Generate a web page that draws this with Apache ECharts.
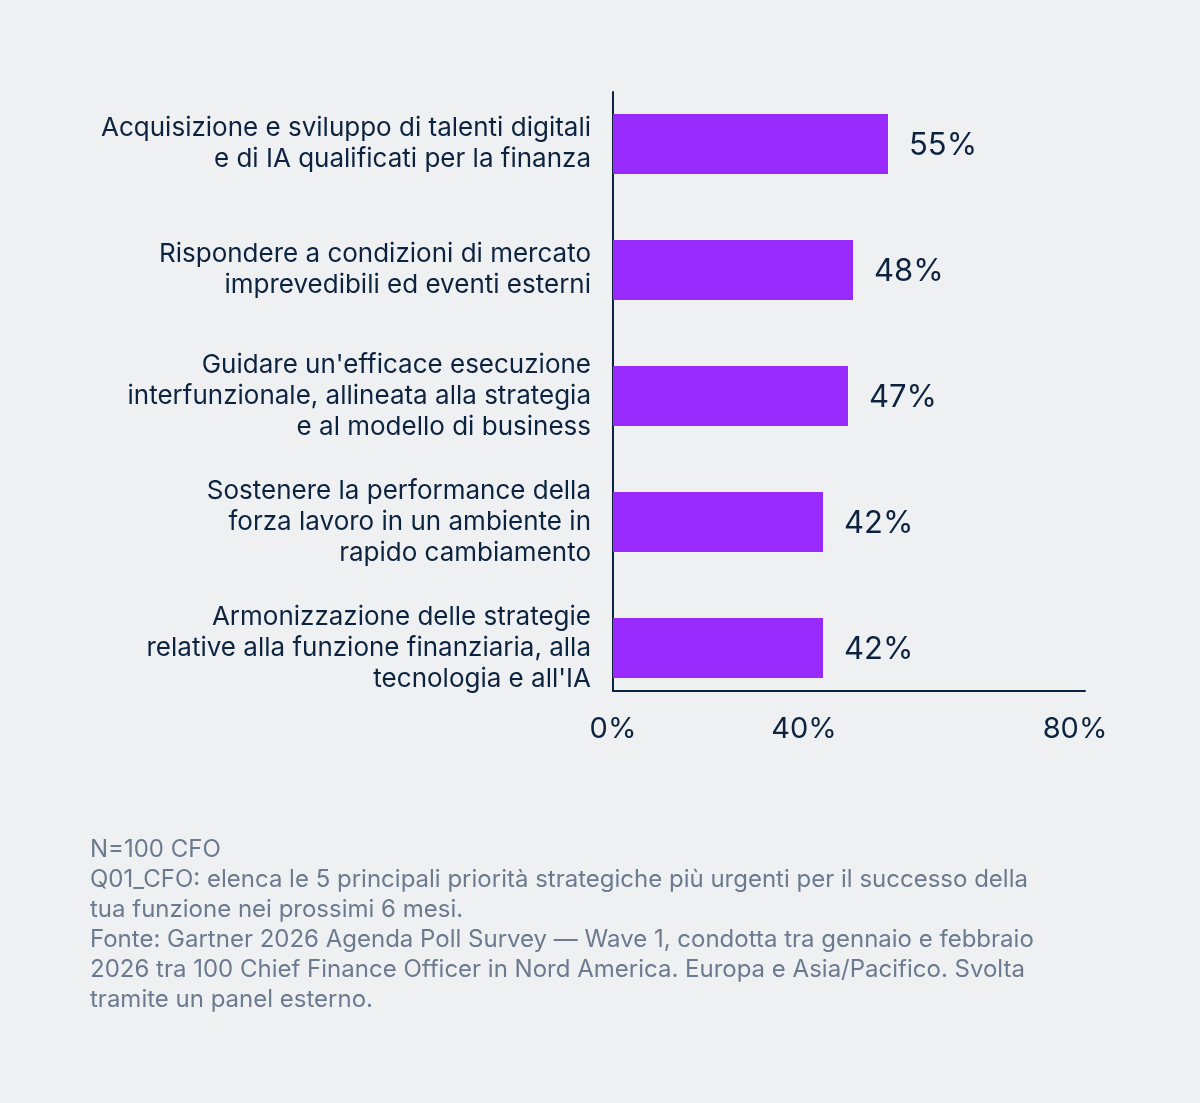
<!DOCTYPE html>
<html>
<head>
<meta charset="utf-8">
<script src="https://cdn.jsdelivr.net/npm/echarts@6/dist/echarts.min.js"></script>
<style>
  html, body { margin: 0; padding: 0; background: #eff0f2; }
  #chart { width: 1200px; height: 1103px; }
</style>
</head>
<body>
<div id="chart"></div>
<script>
const categories = [
  "Acquisizione e sviluppo di talenti digitali\ne di IA qualificati per la finanza",
  "Rispondere a condizioni di mercato\nimprevedibili ed eventi esterni",
  "Guidare un'efficace esecuzione\ninterfunzionale, allineata alla strategia\ne al modello di business",
  "Sostenere la performance della\nforza lavoro in un ambiente in\nrapido cambiamento",
  "Armonizzazione delle strategie\nrelative alla funzione finanziaria, alla\ntecnologia e all'IA"
]
const values = [55, 48, 47, 42, 42]
const tickValues = [0, 40, 80]

const footnote = [
  'N=100 CFO',
  'Q01_CFO: elenca le 5 principali priorità strategiche più urgenti per il successo della',
  'tua funzione nei prossimi 6 mesi.',
  'Fonte: Gartner 2026 Agenda Poll Survey — Wave 1, condotta tra gennaio e febbraio',
  '2026 tra 100 Chief Finance Officer in Nord America. Europa e Asia/Pacifico. Svolta',
  'tramite un panel esterno.'
]

const navy = '#0c2340'
const font = 'Inter'

const chart = echarts.init(document.getElementById('chart'))

// tick labels sit a bit left of their true positions in the original
const tickShift = { 40: 90, 80: 20 }

const option = {
  backgroundColor: '#eff0f2',
  textStyle: { fontFamily: font },
  title: {
    text: footnote.join('\n'),
    left: 85,
    top: 830,
    textStyle: {
      fontFamily: font,
      fontSize: 24,
      fontWeight: 'normal',
      color: '#6b7a8f',
      lineHeight: 30
    }
  },
  grid: [
    // bars
    { left: 613, right: 115, top: 81, bottom: 392 },
    // axis lines + ticks
    { left: 613, right: 115, top: 92, bottom: 412 }
  ],
  xAxis: [
    {
      gridIndex: 0,
      type: 'value',
      min: 0,
      max: 94.4,
      show: false
    },
    {
      gridIndex: 1,
      type: 'value',
      min: 0,
      max: 80,
      interval: 40,
      axisLine: { show: true, onZero: false, lineStyle: { color: navy, width: 2 } },
      axisTick: { show: false },
      splitLine: { show: false },
      axisLabel: {
        margin: 24,
        color: navy,
        fontSize: 29,
        fontFamily: font,
        formatter: v => {
          if (!tickValues.includes(v)) return ''
          return tickShift[v] ? '{s' + v + '|' + v + '%}' : v + '%'
        },
        rich: {
          s40: { fontSize: 29, color: navy, fontFamily: font, padding: [0, tickShift[40], 0, 0] },
          s80: { fontSize: 29, color: navy, fontFamily: font, padding: [0, tickShift[80], 0, 0] }
        }
      }
    }
  ],
  yAxis: [
    {
      gridIndex: 0,
      type: 'category',
      data: categories,
      inverse: true,
      axisLine: { show: false },
      axisTick: { show: false },
      axisLabel: {
        margin: 22,
        color: navy,
        fontSize: 26,
        lineHeight: 31,
        fontFamily: font,
        align: 'right'
      }
    },
    {
      gridIndex: 1,
      type: 'value',
      min: 0,
      max: 1,
      axisLine: { show: true, onZero: false, lineStyle: { color: navy, width: 2 } },
      axisTick: { show: false },
      axisLabel: { show: false },
      splitLine: { show: false }
    }
  ],
  series: [
    {
      type: 'bar',
      xAxisIndex: 0,
      yAxisIndex: 0,
      data: values,
      barWidth: 60,
      itemStyle: { color: '#9a2bff' },
      label: {
        show: true,
        position: 'right',
        distance: 21,
        offset: [0, 2],
        formatter: '{c}%',
        color: navy,
        fontSize: 31,
        fontFamily: font
      },
      silent: true
    }
  ]
}

chart.setOption(option)
</script>
</body>
</html>
